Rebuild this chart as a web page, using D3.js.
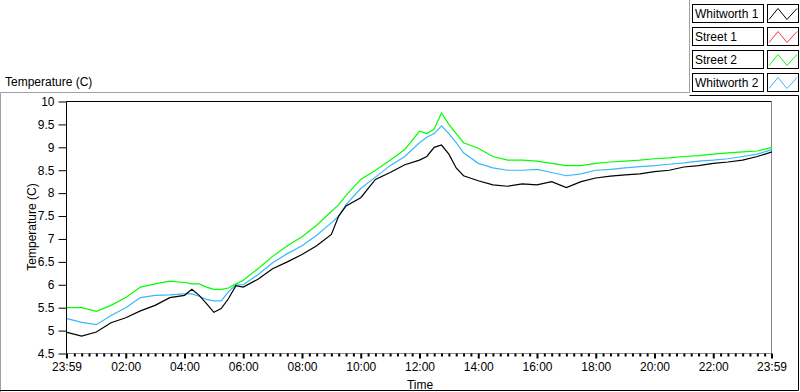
<!DOCTYPE html>
<html>
<head>
<title></title>
<script src="https://d3js.org/d3.v7.min.js"></script>
<style>
 body {margin:0; background:#fff;}
 svg {display:block; font-family:"Liberation Sans", Arial, sans-serif;}
 text {fill:#000;}
</style>
</head>
<body>
<svg width="800" height="392"></svg>
<script>
// hours after midnight (the axis begins at 23:59 of the day before)
var hours = [0,0.5,1,1.5,2,2.5,3,3.5,4,4.25,4.5,4.75,5,5.25,5.5,5.75,6,6.5,7,7.5,8,8.5,9,9.25,9.5,
  10,10.5,11,11.5,12,12.25,12.5,12.75,13,13.25,13.5,14,14.5,15,15.5,16,16.5,17,17.5,18,18.5,
  19,19.5,20,20.5,21,21.5,22,22.5,23,23.5,24];

var whitworth1 = [4.96,4.88,4.97,5.17,5.28,5.43,5.55,5.72,5.77,5.9,5.77,5.59,5.4,5.48,5.7,5.98,5.95,6.12,6.35,6.5,6.66,6.85,7.1,7.5,7.72,
  7.9,8.3,8.45,8.62,8.72,8.8,9.0,9.05,8.85,8.55,8.38,8.27,8.18,8.15,8.2,8.18,8.25,8.12,8.25,8.33,8.37,
  8.4,8.42,8.47,8.5,8.57,8.6,8.65,8.68,8.72,8.8,8.9];
var street1 = [];
var street2 = [5.5,5.5,5.42,5.55,5.72,5.95,6.02,6.08,6.05,6.02,6.02,5.95,5.9,5.9,5.93,6.02,6.1,6.35,6.62,6.85,7.05,7.3,7.6,7.75,7.95,
  8.3,8.5,8.72,8.95,9.35,9.3,9.4,9.75,9.5,9.3,9.1,8.98,8.8,8.72,8.72,8.7,8.65,8.6,8.6,8.65,8.68,
  8.7,8.72,8.75,8.77,8.8,8.82,8.85,8.88,8.9,8.92,9.0];
var whitworth2 = [5.26,5.18,5.13,5.33,5.5,5.72,5.77,5.78,5.8,5.8,5.75,5.68,5.65,5.65,5.85,6.0,6.0,6.22,6.48,6.68,6.85,7.08,7.35,7.5,7.75,
  8.1,8.35,8.6,8.8,9.1,9.22,9.3,9.47,9.3,9.1,8.88,8.65,8.55,8.5,8.5,8.52,8.45,8.38,8.42,8.5,8.52,
  8.55,8.58,8.6,8.63,8.66,8.7,8.72,8.75,8.8,8.85,8.95];

var seriesNames = ["Whitworth 1","Street 1","Street 2","Whitworth 2"];
var seriesColors = ["#000000","#ff3030","#00ff00","#38b8f8"];
var seriesValues = [whitworth1, street1, street2, whitworth2];

var yTicks = [4.5,5,5.5,6,6.5,7,7.5,8,8.5,9,9.5,10];
var xTickHours = [-1/60,2,4,6,8,10,12,14,16,18,20,22,24-1/60];
var xTickLabels = ["23:59","02:00","04:00","06:00","08:00","10:00","12:00","14:00","16:00","18:00","20:00","22:00","23:59"];

var svg = d3.select("svg");
var plotL = 66.5, plotR = 771.5, plotT = 101.5, plotB = 353.5;

var x = d3.scaleLinear().domain([-1/60, 24-1/60]).range([plotL, plotR]);
var y = d3.scaleLinear().domain([4.5, 10]).range([plotB, plotT]);

// outer frame
svg.append("path").attr("d","M0.5,392 V92.5 H689.5 V0").attr("fill","none").attr("stroke","#a0a0a0");
svg.append("path").attr("d","M689.5,95.5 H798.5 V390.5 H0").attr("fill","none").attr("stroke","#000");

// plot frame
svg.append("path").attr("d","M"+plotL+","+plotB+" H"+plotR+" V"+plotT).attr("fill","none").attr("stroke","#8a8a8a");
svg.append("path").attr("d","M"+plotL+","+plotB+" V"+plotT+" H"+plotR).attr("fill","none").attr("stroke","#000");

// y axis
var yAxis = svg.append("g").attr("transform","translate("+plotL+",0)")
  .call(d3.axisLeft(y).tickValues(yTicks).tickSize(8).tickPadding(4).tickFormat(d3.format("~g")));
yAxis.select(".domain").remove();
yAxis.selectAll("text").style("font-size","12px").style("font-family","Liberation Sans, Arial");

// x axis: majors every 2 h, minors every 15 min
var minor = [];
for (var m = 15; m < 1440; m += 15) if (m % 120) minor.push(m/60);
svg.append("g").attr("class","minor").attr("transform","translate(0,"+plotB+")")
  .call(d3.axisBottom(x).tickValues(minor).tickSize(3).tickFormat(""))
  .select(".domain").remove();
var xAxis = svg.append("g").attr("transform","translate(0,"+plotB+")")
  .call(d3.axisBottom(x).tickValues(xTickHours).tickSize(5).tickPadding(4)
    .tickFormat(function(d,i){ return xTickLabels[i]; }));
xAxis.select(".domain").remove();
xAxis.selectAll("text").style("font-size","12px").style("font-family","Liberation Sans, Arial");
svg.selectAll(".tick line").attr("stroke","#000").attr("stroke-width",1);
xAxis.selectAll(".tick line").attr("stroke-width",2);
svg.selectAll(".minor .tick line").attr("stroke-width",2);

// titles
svg.append("text").attr("x",5).attr("y",86).style("font-size","12px").text("Temperature (C)");
svg.append("text").attr("transform","translate(36,227) rotate(-90)").attr("text-anchor","middle")
  .style("font-size","12px").text("Temperature (C)");
svg.append("text").attr("x",420).attr("y",389).attr("text-anchor","middle")
  .style("font-size","12px").text("Time");

// series
var line = d3.line().x(function(d){ return x(d[0]); }).y(function(d){ return y(d[1]); });
var drawOrder = [2,3,1,0];
drawOrder.forEach(function(k){
  var pts = seriesValues[k].map(function(v,i){ return [hours[i], v]; });
  if (!pts.length) return;
  svg.append("path").datum(pts).attr("d", line)
    .attr("fill","none").attr("stroke", seriesColors[k]).attr("stroke-width",1.2);
});

// legend
var lg = svg.append("g");
seriesNames.forEach(function(name,i){
  var ty = Math.round(3.5 + i*23.3) + 0.5;
  lg.append("rect").attr("x",692.5).attr("y",ty).attr("width",71).attr("height",18)
    .attr("fill","#fff").attr("stroke","#000");
  lg.append("text").attr("x",695).attr("y",ty+13.5).style("font-size","12px").text(name);
  lg.append("rect").attr("x",767.5).attr("y",ty).attr("width",31).attr("height",18)
    .attr("fill","#fff").attr("stroke","#000");
  lg.append("path").attr("d","M769,"+(ty+15)+" L778,"+(ty+4)+" L787,"+(ty+15)+" L797,"+(ty+4))
    .attr("fill","none").attr("stroke",seriesColors[i]);
});
</script>
</body>
</html>
